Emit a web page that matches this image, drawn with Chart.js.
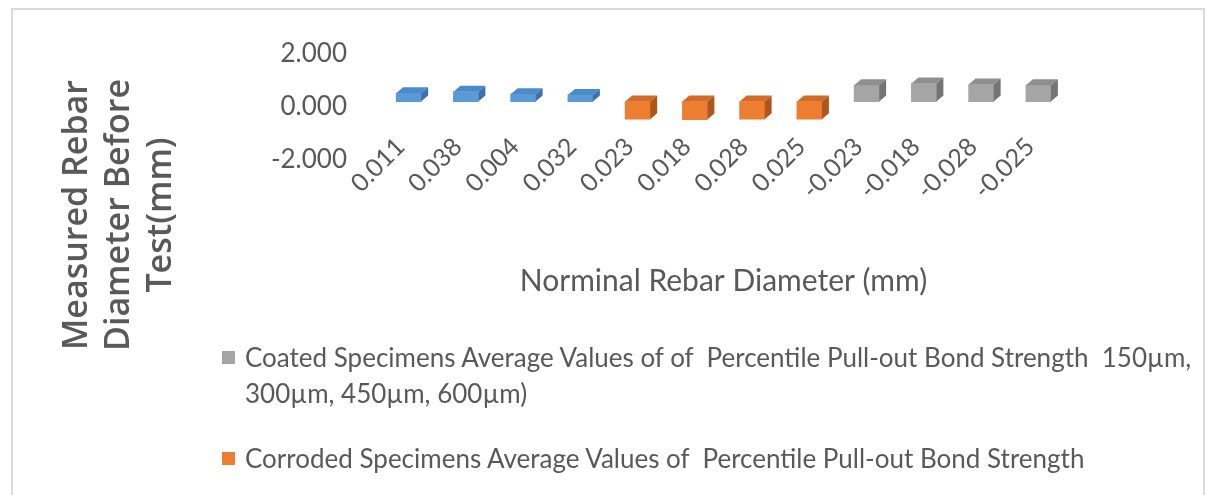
<!DOCTYPE html>
<html lang="en">
<head>
  <meta charset="UTF-8">
  <title>Measured Rebar Diameter Before Test</title>
  <script src="https://cdn.jsdelivr.net/npm/chart.js"></script>
  <style>
    body { margin: 0; background: #fff; }
    #wrap { position: relative; width: 1209px; height: 495px; overflow: hidden; background: #fff; }
    #frame {
      position: absolute; left: 11px; top: 8px; width: 1190px; height: 540px;
      border: 2px solid #d9d9d9;
    }
    #chart { position: absolute; left: 0; top: 0; }
    #ytitle {
      position: absolute; left: -34px; top: 152px; width: 300px; height: 126px;
      transform: rotate(-90deg); transform-origin: 50% 50%;
      font-family: 'Open Sans', sans-serif; font-weight: 600; font-size: 34px;
      line-height: 42px; text-align: center; color: #595959;
    }
    #legend {
      position: absolute; left: 222px; top: 339px; width: 1000px;
      font-family: Lato, sans-serif; font-size: 26px; line-height: 36px; color: #595959;
    }
    .item { display: flex; align-items: flex-start; margin-bottom: 29px; }
    .box { width: 13px; height: 13px; margin-top: 12px; margin-right: 10px; flex: none; }
    .txt { white-space: pre-wrap; }
  </style>
</head>
<body>
<div id="wrap">
  <div id="frame"></div>
  <canvas id="chart" width="1209" height="495"></canvas>
  <div id="ytitle">Measured Rebar<br>Diameter Before<br>Test(mm)</div>
  <div id="legend"></div>
</div>

<script>
  // values
  const categories = ['0.011', '0.038', '0.004', '0.032', '0.023', '0.018', '0.028', '0.025',
                      '-0.023', '-0.018', '-0.028', '-0.025'];
  const uncoatedValues = [0.31, 0.37, 0.28, 0.25, null, null, null, null, null, null, null, null];
  const corrodedValues = [null, null, null, null, -0.67, -0.68, -0.67, -0.67, null, null, null, null];
  const coatedValues = [null, null, null, null, null, null, null, null, 0.62, 0.68, 0.64, 0.62];
  const seriesLabels = [
    '',
    'Corroded Specimens Average Values of  Percentile Pull-out Bond Strength',
    'Coated Specimens Average Values of of  Percentile Pull-out Bond Strength  150\u00b5m, 300\u00b5m, 450\u00b5m, 600\u00b5m)'
  ];
  const yTicks = [-2, 0, 2];
  const xTitle = 'Norminal Rebar Diameter (mm)';

  const frontColors = ['#5b9bd5', '#ed7d31', '#a5a5a5'];
  const topColors = ['#4b8bcb', '#d36a26', '#8f8f8f'];
  const sideColors = ['#3c72ab', '#ad561d', '#747474'];
  const textColor = '#595959';

  // fake excel-style 3d: add top and side faces to every bar
  const depthX = 7, depthY = -6;
  const bar3d = {
    id: 'bar3d',
    afterDatasetsDraw(chart) {
      const ctx = chart.ctx;
      chart.data.datasets.forEach((ds, i) => {
        const meta = chart.getDatasetMeta(i);
        meta.data.forEach((bar, j) => {
          if (ds.data[j] == null) return;
          const p = bar.getProps(['x', 'y', 'base', 'width'], true);
          const l = p.x - p.width / 2, r = p.x + p.width / 2;
          const top = Math.min(p.y, p.base), bot = Math.max(p.y, p.base);
          ctx.save();
          ctx.fillStyle = topColors[i];
          ctx.beginPath();
          ctx.moveTo(l, top);
          ctx.lineTo(l + depthX, top + depthY);
          ctx.lineTo(r + depthX, top + depthY);
          ctx.lineTo(r, top);
          ctx.closePath();
          ctx.fill();
          ctx.fillStyle = sideColors[i];
          ctx.beginPath();
          ctx.moveTo(r, top);
          ctx.lineTo(r + depthX, top + depthY);
          ctx.lineTo(r + depthX, bot + depthY);
          ctx.lineTo(r, bot);
          ctx.closePath();
          ctx.fill();
          ctx.restore();
        });
      });
    }
  };

  const seriesValues = [uncoatedValues, corrodedValues, coatedValues];
  const datasets = seriesValues.map((vals, i) => ({
    label: seriesLabels[i],
    data: vals,
    backgroundColor: frontColors[i],
    borderWidth: 0,
    barThickness: 25,
    grouped: false
  }));

  const chart = new Chart(document.getElementById('chart'), {
    type: 'bar',
    data: { labels: categories, datasets: datasets },
    plugins: [bar3d],
    options: {
      responsive: false,
      animation: false,
      layout: { padding: { left: 260, right: 142, top: 47, bottom: 192 } },
      plugins: { legend: { display: false }, tooltip: { enabled: false } },
      scales: {
        x: {
          grid: { display: false, drawTicks: false },
          border: { display: false },
          ticks: {
            color: textColor, font: { family: 'Lato', size: 25 },
            minRotation: 45, maxRotation: 45, padding: 0, labelOffset: -8, autoSkip: false
          },
          title: {
            display: true, text: xTitle, color: textColor,
            font: { family: 'Lato', size: 30 }, padding: { top: 4, bottom: 4 }
          },
          afterFit(scale) { scale.height = 171; }
        },
        y: {
          // plot floor sits a little above the -2 tick, like the excel 3d floor
          min: -1.15, max: 2,
          grid: { display: false, drawTicks: false },
          border: { display: false },
          ticks: {
            color: textColor, font: { family: 'Lato', size: 26 },
            padding: 33, labelOffset: 5,
            callback: v => v.toFixed(3)
          },
          afterBuildTicks(scale) { scale.ticks = yTicks.map(v => ({ value: v })); },
          afterFit(scale) { scale.width = 120; }
        }
      }
    }
  });

  // html legend so the long label can wrap (order as in the picture)
  const legend = document.getElementById('legend');
  [2, 1].forEach(i => {
    const item = document.createElement('div');
    item.className = 'item';
    const box = document.createElement('span');
    box.className = 'box';
    box.style.background = chart.data.datasets[i].backgroundColor;
    const txt = document.createElement('span');
    txt.className = 'txt';
    txt.textContent = chart.data.datasets[i].label;
    item.appendChild(box);
    item.appendChild(txt);
    legend.appendChild(item);
  });
</script>
</body>
</html>
